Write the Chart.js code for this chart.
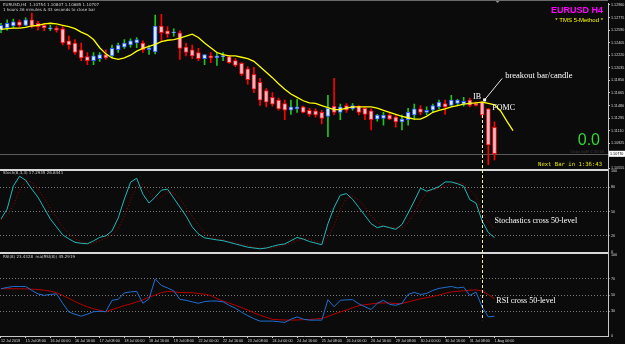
<!DOCTYPE html>
<html><head><meta charset="utf-8">
<script src="https://cdn.jsdelivr.net/npm/chart.js@4.4.1/dist/chart.umd.min.js"></script>
<style>html,body{margin:0;padding:0;background:#0b0b0b;}canvas{display:block;}</style>
</head><body>
<canvas id="c" width="625" height="344"></canvas>
<script>
// ---- data (EURUSD H4) ----
const timeLabels = ["12 Jul 2019","15 Jul 08:00","16 Jul 00:00","16 Jul 16:00","17 Jul 08:00","18 Jul 00:00","18 Jul 16:00","19 Jul 08:00","22 Jul 00:00","22 Jul 16:00","23 Jul 08:00","24 Jul 00:00","24 Jul 16:00","25 Jul 08:00","26 Jul 00:00","26 Jul 16:00","29 Jul 08:00","30 Jul 00:00","30 Jul 16:00","31 Jul 08:00","1 Aug 00:00"];
const open = [1.1259,1.1262,1.1265,1.1271,1.1266,1.1274,1.1269,1.1266,1.1261,1.1262,
1.1261,1.1243,1.1240,1.1230,1.1220,1.1214,1.1217,1.1223,1.1221,1.1230,
1.1234,1.1237,1.1240,1.1240,1.1230,1.1227,1.1265,1.1258,1.1255,1.1255,
1.1234,1.1230,1.1226,1.1217,1.1221,1.1218,1.1220,1.1220,1.1214,1.1210,
1.1202,1.1194,1.1182,1.1170,1.1160,1.1156,1.1151,1.1141,1.1143,1.1146,
1.1141,1.1140,1.1138,1.1132,1.1147,1.1138,1.1148,1.1143,1.1147,1.1144,
1.1140,1.1128,1.1129,1.1134,1.1131,1.1124,1.1127,1.1134,1.1143,1.1138,
1.1141,1.1146,1.1151,1.1148,1.1151,1.1150,1.1156,1.1151,1.1153,1.1143,
1.1116];
const high = [1.1269,1.1274,1.1275,1.1274,1.1277,1.1284,1.1272,1.1269,1.1266,1.1265,
1.1264,1.1250,1.1245,1.1240,1.1226,1.1226,1.1226,1.1230,1.1237,1.1240,
1.1245,1.1246,1.1248,1.1243,1.1236,1.1281,1.1282,1.1264,1.1261,1.1258,
1.1240,1.1237,1.1232,1.1223,1.1226,1.1226,1.1226,1.1221,1.1217,1.1211,
1.1205,1.1204,1.1188,1.1173,1.1167,1.1159,1.1156,1.1156,1.1157,1.1147,
1.1144,1.1143,1.1141,1.1163,1.1188,1.1150,1.1151,1.1151,1.1148,1.1146,
1.1143,1.1135,1.1138,1.1138,1.1134,1.1134,1.1144,1.1150,1.1148,1.1146,
1.1150,1.1156,1.1156,1.1163,1.1157,1.1160,1.1159,1.1153,1.1154,1.1144,
1.1124];
const low = [1.1255,1.1259,1.1262,1.1264,1.1265,1.1262,1.1259,1.1258,1.1258,1.1256,
1.1237,1.1231,1.1223,1.1214,1.1208,1.1208,1.1213,1.1216,1.1218,1.1226,
1.1232,1.1234,1.1233,1.1226,1.1223,1.1224,1.1243,1.1248,1.1250,1.1216,
1.1221,1.1217,1.1214,1.1208,1.1211,1.1207,1.1214,1.1210,1.1205,1.1192,
1.1179,1.1167,1.1148,1.1146,1.1147,1.1141,1.1127,1.1135,1.1138,1.1137,
1.1132,1.1131,1.1121,1.1102,1.1134,1.1127,1.1138,1.1141,1.1134,1.1127,
1.1112,1.1125,1.1119,1.1127,1.1116,1.1112,1.1119,1.1128,1.1134,1.1134,
1.1138,1.1143,1.1135,1.1147,1.1148,1.1147,1.1146,1.1147,1.1131,1.1061,
1.1068];
const close = [1.1266,1.1269,1.1271,1.1266,1.1274,1.1265,1.1264,1.1262,1.1262,1.1259,
1.1240,1.1237,1.1226,1.1218,1.1214,1.1221,1.1223,1.1218,1.1232,1.1237,
1.1240,1.1243,1.1245,1.1230,1.1233,1.1265,1.1255,1.1253,1.1256,1.1232,
1.1226,1.1221,1.1217,1.1223,1.1218,1.1221,1.1221,1.1211,1.1207,1.1194,
1.1186,1.1172,1.1156,1.1153,1.1150,1.1143,1.1141,1.1146,1.1146,1.1138,
1.1135,1.1134,1.1129,1.1144,1.1138,1.1146,1.1141,1.1148,1.1138,1.1135,
1.1127,1.1134,1.1134,1.1128,1.1124,1.1128,1.1138,1.1143,1.1138,1.1141,
1.1148,1.1153,1.1146,1.1156,1.1156,1.1154,1.1148,1.1148,1.1134,1.1090,
1.1077];
const maLine = [1.1260,1.1261,1.1262,1.1262,1.1263,1.1265,1.1266,1.1268,1.1269,1.1268,
1.1266,1.1264,1.1261,1.1256,1.1252,1.1245,1.1233,1.1224,1.1218,1.1216,
1.1218,1.1222,1.1228,1.1232,1.1235,1.1238,1.1242,1.1244,1.1245,1.1247,
1.1250,1.1253,1.1248,1.1240,1.1233,1.1226,1.1223,1.1221,1.1221,1.1219,
1.1217,1.1213,1.1205,1.1197,1.1189,1.1180,1.1172,1.1165,1.1160,1.1155,
1.1152,1.1151,1.1148,1.1145,1.1142,1.1142,1.1144,1.1146,1.1146,1.1146,
1.1146,1.1144,1.1141,1.1138,1.1135,1.1132,1.1130,1.1128,1.1128,1.1132,
1.1138,1.1141,1.1143,1.1146,1.1148,1.1150,1.1151,1.1152,1.1153,1.1151,
1.1149,1.1140,1.1125,1.1111];
const stochK = [40.8,53,81.2,93.4,88.5,77.5,67.5,54.2,40.8,31,
21.2,16.3,12,10.8,10.2,13.8,18.1,20,26.1,42,
65.3,86.1,91,71.4,60.4,67.7,76.3,77.5,66.5,55.5,
44.4,31,22.4,17.5,16.3,15,14,12,10,8,
6,5,4,5,7,9,10,14,18,16,
13,11,9,35,55,70,72,65,55,45,
35,30,32,30,28,34,48,63,78.7,75,
77.5,80.6,86.4,86.4,84.2,81.2,64.6,60.4,38.3,24,
17.9];
const stochD = [40,45,58,76,88,86,78,66,54,42,
31,23,16,13,11,11.5,14,17,21,29,
44,64,81,83,74,66,68,74,73,66,
55,44,33,24,19,16,15,13,12,10,
8,6,5,5,5,7,9,11,14,16,
16,13,11,18,33,53,66,69,64,55,
45,37,32,31,30,30,36,48,63,73,
77,78,81,84,86,84,77,69,49,38,
28];
const rsi = [57.8,59.4,60.6,60.6,60.6,55.7,51.4,49.6,50.8,51.4,
39.8,29.1,26.3,23.9,26.3,29.4,30,29.4,43.5,44.7,
52.7,53.9,54.5,39.8,45.3,70,61.8,58.8,55.1,44.7,
43.5,41.6,39.8,41.9,42.6,42.6,41.6,37.3,33.7,28.8,
24.5,20.8,17.8,17.8,17.8,17.1,16.2,20.2,23,20.2,
19,19,19,44.3,35.5,43.5,44.1,44.3,39.2,35.5,
32.1,39.8,43.5,38.6,37.3,39.8,50.8,53.3,50.8,52,
55.7,58.2,59.4,60.6,58.8,59.8,49.6,53.6,35.3,23,
23.9];
const rsiMa = [57.8,57.8,57.8,57.8,57.6,57.3,56.8,56,54.8,53,
49.5,46,42,38.5,35.5,33,31.2,29.3,32,34.5,
37,39,41.4,44,47.5,50,53,54.5,54,53.2,
52.9,52.9,52,51,49.5,45.5,42.5,40,37.3,34.5,
31.5,28,25.1,22.5,20,19.5,19.2,19,19.2,19.6,
19.8,20.5,21.1,23.5,26.5,29.1,31.5,34.3,36.8,38,
39,40,40.2,40.2,39.5,39.5,41.5,43.5,45.3,46.8,
48.3,50,52.2,53.8,54.6,55.3,55.9,56.4,55,50.5,
45.5];
const priceTicks = [1.12960,1.12775,1.12590,1.12405,1.12220,1.12035,1.11850,1.11665,1.11480,1.11295,1.11110,1.10925,1.10740,1.10555];
const stochTicks = [0,20,50,80,100];
const rsiTicks = [0,30,50,70,100];
const breakoutBar = 78, ibBar = 77, fomcBar = 79;

// ---- styling ----
const BG = '#0b0b0b';
const AX = '#c8c8c8';
const small = {size: 3.7, family: 'Liberation Sans'};
const isBull = i => close[i] >= open[i];

const overlay = {
  id: 'overlay',
  beforeDraw(chart) {
    const c = chart.ctx; c.save(); c.fillStyle = BG; c.fillRect(0, 0, chart.width, chart.height); c.restore();
  },
  beforeDatasetsDraw(chart) {
    const c = chart.ctx, ca = chart.chartArea, ym = chart.scales.yMain;
    c.save();
    const yb = Math.round(ym.getPixelForValue(close[close.length - 1])) + 0.5;
    c.strokeStyle = '#5a5a5a'; c.lineWidth = 1;
    c.beginPath(); c.moveTo(ca.left, yb); c.lineTo(ca.right, yb); c.stroke();
    c.restore();
  },
  afterDraw(chart) {
    const c = chart.ctx, ca = chart.chartArea;
    const xs = chart.scales.x, ym = chart.scales.yMain, ys = chart.scales.yStoch, yr = chart.scales.yRsi;
    c.save();
    c.fillStyle = '#d8d8d8';
    c.fillRect(ca.left, Math.round(ym.bottom) - 1, ca.right - ca.left, 2);
    c.fillRect(ca.left, Math.round(ys.bottom) - 1, ca.right - ca.left, 2);
    c.fillStyle = '#6a6a6a';
    c.fillRect(ca.left, 0, ca.right - ca.left, 1);
    c.fillStyle = '#8a8a8a';
    const tx = xs.getPixelForValue(80.5);
    c.beginPath(); c.moveTo(tx - 2, 1); c.lineTo(tx + 2, 1); c.lineTo(tx, 3); c.closePath(); c.fill();

    const bx = Math.round(xs.getPixelForValue(breakoutBar)) + 0.5;
    c.strokeStyle = '#f4f0b0'; c.lineWidth = 1; c.setLineDash([3, 2]);
    c.beginPath(); c.moveTo(bx, ym.getPixelForValue(close[breakoutBar])); c.lineTo(bx, yr.getPixelForValue(19)); c.stroke();
    c.setLineDash([]);

    c.strokeStyle = '#e8e8e8';
    const ax0 = xs.getPixelForValue(breakoutBar) + 2, ay0 = ym.getPixelForValue(high[breakoutBar]) - 1;
    c.beginPath(); c.moveTo(ax0, ay0); c.lineTo(ax0 + 18, ay0 - 22); c.stroke();
    c.fillStyle = '#ffffff'; c.fillRect(ax0 - 1, ay0 - 2, 3, 3);

    c.fillStyle = '#ffffff';
    c.textBaseline = 'middle'; c.textAlign = 'left';
    c.font = '8.5px "Liberation Serif"';
    c.fillText('breakout bar/candle', ax0 + 21, ay0 - 25);
    c.font = '8px "Liberation Serif"';
    c.fillText('IB', xs.getPixelForValue(ibBar) - 3, ym.getPixelForValue(high[ibBar]) - 5);
    c.fillText('FOMC', xs.getPixelForValue(fomcBar) + 4, ym.getPixelForValue(open[fomcBar]) - 1);
    c.fillText('Stochastics cross 50-level', xs.getPixelForValue(80), ys.getPixelForValue(39));
    c.fillText('RSI cross 50-level', xs.getPixelForValue(80.3), yr.getPixelForValue(43));

    c.font = '4px "DejaVu Sans"'; c.fillStyle = '#d0d0d0';
    c.fillText('EURUSD,H4  1.10754 1.10807 1.10685 1.10707', 3, 4.5);
    c.fillText('1 hours 36 minutes & 43 seconds to close bar', 3, 10);
    c.fillText('Stoch(8,3,3) 17.2935 26.8441', 3, ys.top + 3.5);
    c.fillText('RSI(8) 23.4328  ma(RSI(8)) 45.2919', 3, yr.top + 4);

    c.textAlign = 'right';
    c.font = 'bold 9px "Liberation Sans"'; c.fillStyle = '#ff00ff';
    c.fillText('EURUSD H4', 603, 11);
    c.font = '6px "Liberation Sans"'; c.fillStyle = '#ffff00';
    c.fillText('* TMS 5-Method *', 603, 20.5);
    c.font = '16px "Liberation Sans"'; c.fillStyle = '#33d633';
    c.fillText('0.0', 600, 140.5);
    c.font = '4px "DejaVu Sans"'; c.fillStyle = '#3c3c3c';
    c.fillText('Copyright©2016', 604, 152);
    c.font = '5.6px "DejaVu Sans Mono"'; c.fillStyle = '#e6e600';
    c.fillText('Next Bar in 1:36:43', 602, 164.5);

    const py = ym.getPixelForValue(close[close.length - 1]);
    c.fillStyle = '#ffffff'; c.fillRect(ca.right + 1, py - 3, 16, 6);
    c.fillStyle = '#000000'; c.textAlign = 'left'; c.font = '3.7px "Liberation Sans"';
    c.fillText(close[close.length - 1].toFixed(5), ca.right + 2, py + 0.3);
    c.restore();
  }
};

const idx = open.map((_, i) => i);
const bodies = idx.map(i => ({x: i, y: [open[i], close[i]]}));
const wicks = idx.map(i => ({x: i, y: [low[i], high[i]]}));

const yCommon = (ticks, fmt) => ({
  type: 'linear', position: 'right', stack: 'panes', offset: false,
  afterBuildTicks: s => { s.ticks = ticks.map(v => ({value: v})); },
  afterFit: s => { s.width = 17; },
  ticks: {color: '#d8d8d8', font: small, padding: 1, autoSkip: false, callback: fmt},
  border: {color: AX, width: 1}
});

new Chart(document.getElementById('c'), {
  data: {
    datasets: [
      {type: 'line', data: maLine.map((v, i) => ({x: i, y: v})), yAxisID: 'yMain', borderColor: '#ffff00', borderWidth: 1.3, pointRadius: 0, tension: 0, order: 0},
      {type: 'bar', data: bodies, yAxisID: 'yMain', grouped: false, barThickness: 4, borderSkipped: false, borderWidth: 1, minBarLength: 1,
        backgroundColor: ctx => isBull(ctx.dataIndex) ? '#cdeefa' : '#f8bcc8',
        borderColor: ctx => isBull(ctx.dataIndex) ? '#2a5cff' : '#ff1010', order: 1},
      {type: 'bar', data: wicks, yAxisID: 'yMain', grouped: false, barThickness: 1, borderWidth: 0,
        backgroundColor: ctx => isBull(ctx.dataIndex) ? '#22c422' : '#ff0000', order: 2},
      {type: 'line', data: stochK.map((v, i) => ({x: i, y: v})), yAxisID: 'yStoch', borderColor: '#21b8b8', borderWidth: 1, pointRadius: 0, order: 0},
      {type: 'line', data: stochD.map((v, i) => ({x: i, y: v})), yAxisID: 'yStoch', borderColor: '#a50000', borderWidth: 1, borderDash: [1, 2], pointRadius: 0, order: 1},
      {type: 'line', data: rsi.map((v, i) => ({x: i, y: v})), yAxisID: 'yRsi', borderColor: '#1f6fd0', borderWidth: 1, pointRadius: 0, order: 0},
      {type: 'line', data: rsiMa.map((v, i) => ({x: i, y: v})), yAxisID: 'yRsi', borderColor: '#b80000', borderWidth: 1, pointRadius: 0, order: 1}
    ]
  },
  options: {
    responsive: false, devicePixelRatio: 1, animation: false,
    layout: {padding: 0},
    plugins: {legend: {display: false}, tooltip: {enabled: false}},
    scales: {
      x: {
        type: 'linear', position: 'bottom', min: -0.16, max: 98.4, offset: false,
        afterBuildTicks: s => { s.ticks = timeLabels.map((t, k) => ({value: k * 4})); },
        afterFit: s => { s.height = 8; },
        ticks: {color: '#d8d8d8', font: small, align: 'start', padding: 0.5, maxRotation: 0, autoSkip: false,
          callback: v => timeLabels[Math.round(v / 4)] || ''},
        grid: {drawOnChartArea: false, offset: false, color: AX, tickLength: 2},
        border: {color: AX, width: 1}
      },
      yMain: Object.assign(yCommon(priceTicks, v => v.toFixed(5)), {
        stackWeight: 168, min: 1.10537, max: 1.12985,
        grid: {drawOnChartArea: false, color: AX, tickLength: 2}
      }),
      yStoch: Object.assign(yCommon(stochTicks, v => String(v)), {
        stackWeight: 84, min: -0.9, max: 101.6,
        grid: {color: c => (c.tick && (c.tick.value === 0 || c.tick.value === 100)) ? 'rgba(0,0,0,0)' : '#7a7a7a', tickLength: 2},
        border: {color: AX, width: 1, dash: [1, 2]}
      }),
      yRsi: Object.assign(yCommon(rsiTicks, v => String(v)), {
        stackWeight: 84, min: -0.6, max: 102.2,
        grid: {color: c => (c.tick && (c.tick.value === 0 || c.tick.value === 100)) ? 'rgba(0,0,0,0)' : '#7a7a7a', tickLength: 2},
        border: {color: AX, width: 1, dash: [1, 2]}
      })
    }
  },
  plugins: [overlay]
});
</script>
</body></html>
